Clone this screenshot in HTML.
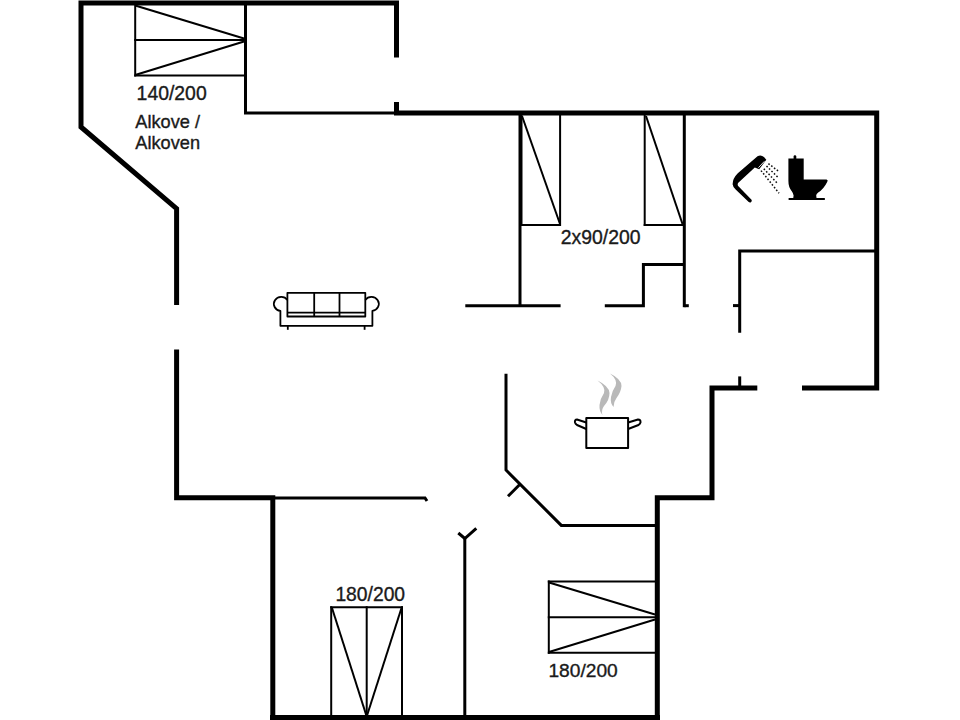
<!DOCTYPE html>
<html>
<head>
<meta charset="utf-8">
<style>
html,body{margin:0;padding:0;background:#fff;}
body{width:960px;height:720px;overflow:hidden;position:relative;}
svg{position:absolute;left:0;top:0;}
.t{font-family:"Liberation Sans",sans-serif;fill:#1a1a1a;stroke:#1a1a1a;stroke-width:0.35px;}
</style>
</head>
<body>
<svg width="960" height="720" viewBox="0 0 960 720">
<g fill="none" stroke="#000" stroke-linecap="butt" stroke-linejoin="miter" stroke-miterlimit="10">
  <!-- thick walls -->
  <g stroke-width="5">
    <polyline points="176.6,305 176.6,208.7 81,127 81,3 396.5,3 396.5,57.5"/>
    <polyline points="396.5,102 396.5,113 876.7,113 876.7,388 802,388"/>
    <polyline points="757.3,388 712,388 712,497.7 657.3,497.7 657.3,725"/>
    <polyline points="176.6,349.4 176.6,497.7 272.8,497.7 272.8,725"/>
    <line x1="270" y1="717.5" x2="660" y2="717.5"/>
  </g>
  <!-- thin walls -->
  <g stroke-width="3">
    <polyline points="245.5,3 245.5,113 396.5,113"/>
    <line x1="520" y1="113" x2="520" y2="305.7"/>
    <line x1="465.3" y1="305.7" x2="560.6" y2="305.7"/>
    <polyline points="604.8,305.7 643.4,305.7 643.4,264.4 684.3,264.4"/>
    <line x1="684.3" y1="113" x2="684.3" y2="307.2"/>
    <line x1="684.3" y1="305.7" x2="688.8" y2="305.7"/>
    <polyline points="739.7,332.8 739.7,250.9 876.7,250.9"/>
    <line x1="733" y1="305.6" x2="739.7" y2="305.6"/>
    <line x1="739.7" y1="376.4" x2="739.7" y2="388"/>
    <polyline points="506,373.7 506,470 561.3,525.4 655,525.4"/>
    <line x1="520" y1="484.3" x2="508" y2="496.3"/>
    <polyline points="275,497.9 425,497.9 427,501"/>
    <line x1="464.8" y1="538.5" x2="464.8" y2="716"/>
    <polyline points="458.3,533 464.8,538.5 476.3,528.3"/>
  </g>
  <!-- beds -->
  <g stroke-width="2">
    <!-- 140/200 -->
    <line x1="135.2" y1="5" x2="135.2" y2="76.5"/>
    <line x1="134.2" y1="40" x2="245" y2="40"/>
    <line x1="134.2" y1="75.6" x2="245" y2="75.6"/>
    <line x1="135.2" y1="5.5" x2="244" y2="38.5"/>
    <line x1="135.2" y1="75" x2="244" y2="41.5"/>
    <!-- 2x90 left -->
    <line x1="521.5" y1="115" x2="521.5" y2="226"/>
    <line x1="560.1" y1="115" x2="560.1" y2="226"/>
    <line x1="520" y1="225" x2="561" y2="225"/>
    <line x1="522" y1="116" x2="560" y2="224"/>
    <!-- 2x90 right -->
    <line x1="644.7" y1="115" x2="644.7" y2="226"/>
    <line x1="643.7" y1="225" x2="684" y2="225"/>
    <line x1="646" y1="116" x2="682.5" y2="224"/>
    <!-- 180/200 bottom -->
    <line x1="331.2" y1="606.2" x2="331.2" y2="716"/>
    <line x1="402" y1="606.2" x2="402" y2="716"/>
    <line x1="366.7" y1="606.2" x2="366.7" y2="716"/>
    <line x1="330.2" y1="607.2" x2="403" y2="607.2"/>
    <line x1="332" y1="608" x2="366.2" y2="715"/>
    <line x1="401.5" y1="608" x2="367.2" y2="715"/>
    <!-- 180/200 right -->
    <line x1="548.8" y1="580.5" x2="548.8" y2="653.8"/>
    <line x1="547.8" y1="581.5" x2="655" y2="581.5"/>
    <line x1="547.8" y1="617.3" x2="655" y2="617.3"/>
    <line x1="547.8" y1="652.8" x2="655" y2="652.8"/>
    <line x1="549" y1="582.5" x2="655" y2="614.5"/>
    <line x1="549" y1="652" x2="655" y2="619.5"/>
  </g>
  <!-- sofa -->
  <g stroke-width="1.8" stroke-linejoin="round">
    <rect x="287.4" y="292.8" width="77.9" height="23.7"/>
    <line x1="314.2" y1="292.8" x2="314.2" y2="316.5"/>
    <line x1="339.5" y1="292.8" x2="339.5" y2="316.5"/>
    <line x1="287.4" y1="312.6" x2="365.3" y2="312.6"/>
    <path d="M287.4,300 A7.4,7 0 1 0 280.4,310.9 L280.4,325.8 L372.4,325.8 L372.4,310.9 A7.4,7 0 1 0 365.3,300"/>
    <line x1="287.8" y1="325.8" x2="287.8" y2="329.8"/>
    <line x1="364.6" y1="325.8" x2="364.6" y2="329.8"/>
  </g>
  <!-- pot -->
  <g stroke-width="2" stroke-linejoin="round">
    <rect x="586.3" y="418" width="41.8" height="30"/>
    <path d="M586.3,422.5 L577,419.5 Q574.5,419.5 575,422.5 Q575.5,424 577,425 L586.3,429"/>
    <path d="M628.1,422.5 L638,419.5 Q640.8,419.5 640.5,422.5 Q640,424 638.5,425 L628.1,429"/>
  </g>
</g>
<!-- steam -->
<g fill="#b9b9b9">
  <path d="M597.5,380.5 Q609,386 609.5,393 Q609.5,400 604,406 Q601,410 602.5,415 Q599,411 599.5,405 Q600.5,398 604,393 Q606,387 597.5,380.5 Z"/>
  <path d="M610,373.5 Q621.5,379 621.5,386 Q621,392 616.5,398 Q613.5,402 613.5,407 Q610,403 611,397 Q612,391 615.5,386 Q618,380 610,373.5 Z"/>
</g>
<!-- shower -->
<path fill="#000" d="M751.3,199.6 L738.4,186.2 Q737,184.5 738.3,182.8 L754.8,167.6 L759.2,169.2 L766.3,159.8 Q762.5,153.8 757.5,156.2 L737.8,173.3 Q732.6,178.5 732.6,184.3 Q732.9,187.4 735.9,189.8 L748.7,202.0 Q750.0,203.0 751.2,201.9 Q752.3,200.8 751.3,199.6 Z"/>
<line x1="764.4" y1="161.3" x2="758.4" y2="167.7" stroke="#fff" stroke-width="0.9"/>
<g stroke="#111" stroke-width="1.5" stroke-dasharray="1.6,1.9" fill="none">
  <line x1="768.4" y1="163.6" x2="778.6" y2="171.3"/>
  <line x1="766.5" y1="166" x2="778.2" y2="177.6"/>
  <line x1="763.8" y1="168.7" x2="777.8" y2="183.8"/>
  <line x1="761" y1="170.6" x2="779" y2="193.2"/>
</g>
<!-- toilet -->
<g fill="#000">
  <path d="M793.6,159 L793.6,156.6 Q793.6,155.2 794.95,155.2 Q796.3,155.2 796.3,156.6 L796.3,159 Z"/>
  <path d="M788.4,158.6 L803.7,158.6 L803.7,179.6 L826.5,179.6 Q828.4,180 827.3,181.8 Q823.8,189 818.2,192.6 Q816.2,193.9 816.2,195.6 L816.6,198.6 L793.2,198.6 L793.6,195.6 Q793.5,193.5 791.6,191 Q788.4,187 788.4,181 Z"/>
  <rect x="788.4" y="197.9" width="36.7" height="2.1" rx="1"/>
</g>
<text class="t" x="136.6" y="99.5" font-size="19.4">140/200</text>
<text class="t" x="135.3" y="127.9" font-size="18.2">Alkove /</text>
<text class="t" x="135.3" y="149.3" font-size="18.2">Alkoven</text>
<text class="t" x="560.8" y="244" font-size="19.4">2x90/200</text>
<text class="t" x="335.4" y="600.8" font-size="19.3">180/200</text>
<text class="t" x="548.4" y="677" font-size="19.2">180/200</text>
</svg>
</body>
</html>
